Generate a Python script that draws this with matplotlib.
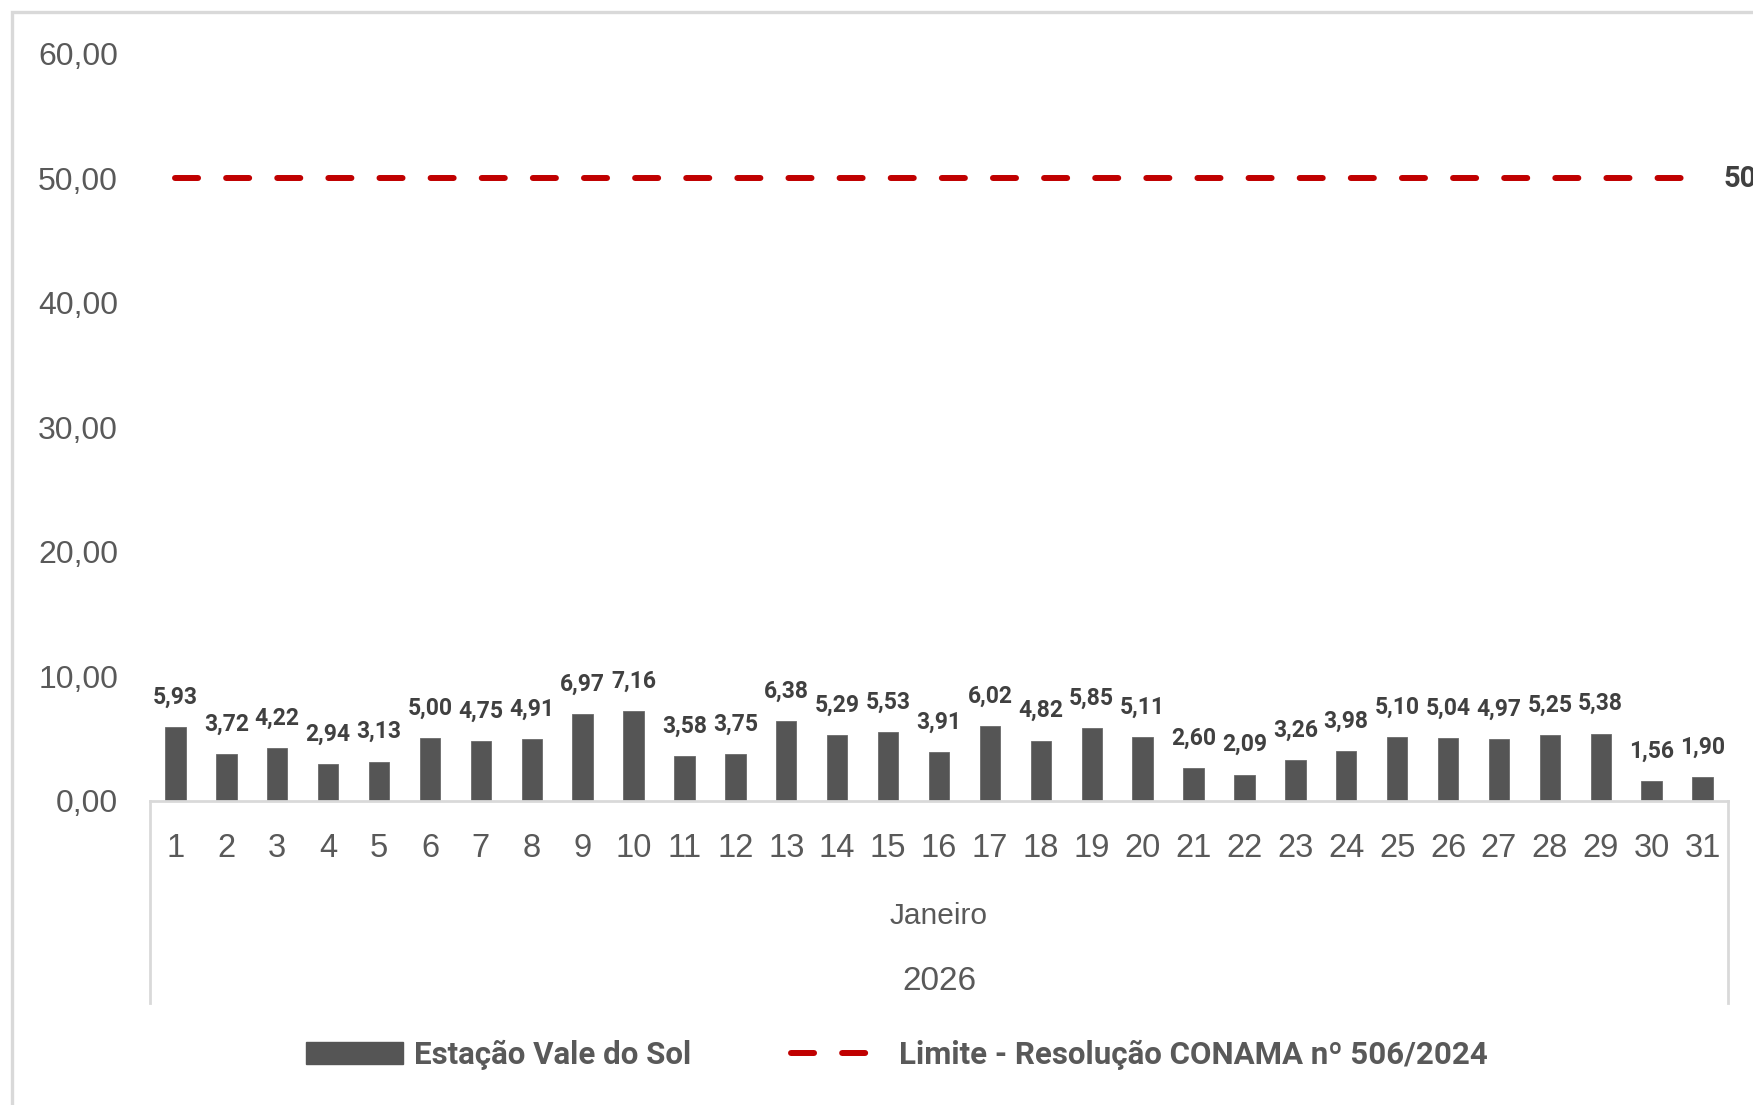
import matplotlib
matplotlib.use("Agg")
import matplotlib.pyplot as plt
from matplotlib.patches import Rectangle
from matplotlib.lines import Line2D

days = list(range(1, 32))
values = [5.93, 3.72, 4.22, 2.94, 3.13, 5.00, 4.75, 4.91, 6.97, 7.16,
          3.58, 3.75, 6.38, 5.29, 5.53, 3.91, 6.02, 4.82, 5.85, 5.11,
          2.60, 2.09, 3.26, 3.98, 5.10, 5.04, 4.97, 5.25, 5.38, 1.56, 1.90]
limit = 50.0
yticks = [0, 10, 20, 30, 40, 50, 60]
month_label = "Janeiro"
year_label = "2026"
series_name = "Estação Vale do Sol"
limit_name = "Limite - Resolução CONAMA nº 506/2024"

BAR = "#555555"
RED = "#C00000"
TXT = "#595959"
DARK = "#404040"
GRID = "#D9D9D9"

NARROW = ["Liberation Sans Narrow", "Roboto", "DejaVu Sans"]
REG = ["Liberation Sans", "DejaVu Sans"]

def br(v, d=2):
    return f"{v:.{d}f}".replace(".", ",")

fig = plt.figure(figsize=(17.53, 11.05), dpi=100)
W, H = 1753, 1105
left, right = 150 / W, 1728 / W
bottom, top = 1 - 800.6 / H, 1 - 53.7 / H
ax = fig.add_axes([left, bottom, right - left, top - bottom])

# chart frame (open at the bottom and right edges)
fig.patches.append(Rectangle((12 / W, -0.2), 1.2, 1.2 - 12 / H, transform=fig.transFigure,
                             fill=False, edgecolor=GRID, linewidth=2.4, zorder=0))

ax.bar(days, values, width=0.4, color=BAR, edgecolor="#6a6a6a", linewidth=0.6, zorder=2)
for d, v in zip(days, values):
    ax.annotate(br(v), (d, v), xytext=(0, 21.5), textcoords="offset points",
                ha="center", va="center", fontsize=16.5, fontweight="bold",
                color=DARK, family=NARROW)

lim_line, = ax.plot([days[0], days[-1]], [limit, limit], color=RED, linewidth=4.3,
                    dash_capstyle="round", zorder=3)
lim_line.set_dashes((3.86, 4.7))
ax.annotate(br(limit), (days[-1], limit), xytext=(15, 0), textcoords="offset points",
            ha="left", va="center", fontsize=21, fontweight="bold", color=DARK,
            family=NARROW, annotation_clip=False)

ax.set_xlim(0.5, 31.5)
ax.set_ylim(0, 60)
ax.set_yticks(yticks)
ax.set_yticklabels([br(v) for v in yticks], fontsize=23, color=TXT, family=REG)
ax.set_xticks(days)
ax.set_xticklabels([str(d) for d in days], fontsize=23.5, color=TXT, family=REG)
ax.tick_params(axis="y", length=0, pad=23)
ax.tick_params(axis="x", length=0, pad=23)
for s in ["top", "right", "left"]:
    ax.spines[s].set_visible(False)
ax.spines["bottom"].set_color(GRID)
ax.spines["bottom"].set_linewidth(2)

# category group separators
depth = (1003 - 800.6) / (800.6 - 53.7)
for xa in (0, 1):
    ax.add_line(Line2D([xa, xa], [0, -depth], transform=ax.transAxes, color=GRID,
                       linewidth=2, clip_on=False))

cx = (left + right) / 2
fig.text(cx, 1 - 916 / H, month_label, ha="center", va="center", fontsize=21.5,
         color=TXT, family=REG)
fig.text(cx, 1 - 982 / H, year_label, ha="center", va="center", fontsize=24,
         color=TXT, family=REG)

handles = [Rectangle((0, 0), 1, 1, color=BAR),
           Line2D([0], [0], color=RED, linewidth=4.3, dash_capstyle="round",
                  dashes=(3.86, 4.7))]
leg = fig.legend(handles, [series_name, limit_name], loc="center",
                 bbox_to_anchor=(0.5115, 1 - 1055 / H), ncol=2, frameon=False,
                 handlelength=3.1, handletextpad=0.35, columnspacing=3.2,
                 prop={"family": NARROW, "weight": "bold", "size": 22.5})
for t in leg.get_texts():
    t.set_color(TXT)

fig.savefig("out.png", dpi=100)
